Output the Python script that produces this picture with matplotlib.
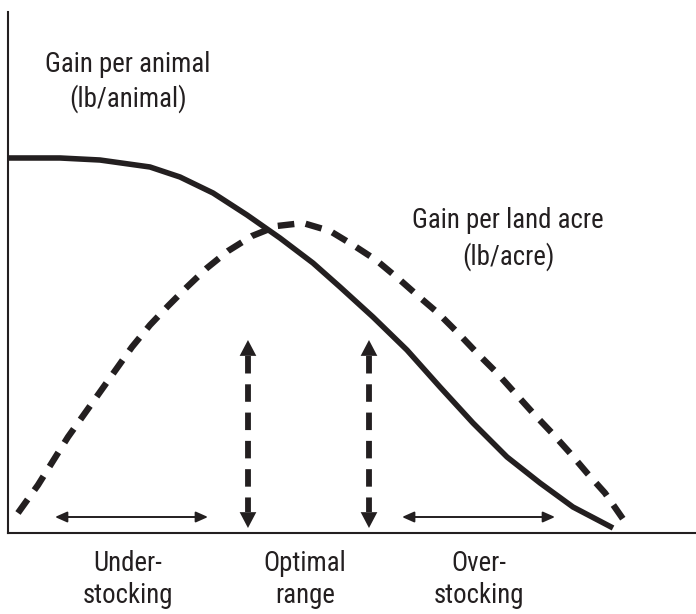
"""Stocking rate diagram: gain per animal vs gain per land acre."""

import matplotlib

matplotlib.use("Agg")
import matplotlib.pyplot as plt

FAMILY = ["Roboto Condensed", "DejaVu Sans"]
INK = "#231f20"

# stocking rate (0-100) vs gain (0-100)
animal_x = [0.0, 7.56, 13.37, 20.64, 25.0, 29.80, 34.74, 39.53, 44.33, 48.26, 53.05,
            57.99, 62.79, 67.59, 72.53, 77.33, 82.12, 87.94]
animal_y = [71.98, 71.98, 71.59, 70.25, 68.33, 65.26, 61.04, 56.62, 51.82, 47.22, 41.46,
            35.12, 28.02, 21.11, 14.59, 9.60, 4.99, 0.96]

acre_x = [1.45, 4.36, 8.72, 13.37, 18.02, 20.64, 23.26, 26.02, 28.92, 31.98, 35.47, 39.10,
          42.88, 46.80, 50.15, 53.49, 56.98, 59.45, 62.50, 65.41, 68.17, 71.08, 73.69,
          76.31, 79.07, 81.69, 84.16, 86.77, 89.39]
acre_y = [3.84, 9.21, 18.43, 27.06, 35.70, 39.92, 43.57, 47.22, 50.86, 54.13, 57.01, 58.93,
          59.50, 57.97, 55.28, 52.40, 48.56, 45.68, 42.23, 38.39, 34.55, 30.71, 26.87,
          23.03, 19.19, 15.36, 11.52, 7.68, 2.69]

opt_x = [34.88, 52.47]
opt_top = 37.04
opt_bottom = 0.96

range_y = 3.07
range_spans = [(6.83, 29.07), (57.27, 79.51)]

curve_labels = [["Gain per animal", "(lb/animal)"], ["Gain per land acre", "(lb/acre)"]]
curve_label_x = [17.4, 72.7]
curve_label_y = [[88.5, 81.8], [58.5, 51.6]]

zone_labels = [["Under-", "stocking"], ["Optimal", "range"], ["Over-", "stocking"]]
zone_x = [17.4, 43.2, 68.5]
zone_y = [-7.3, -13.4]

fig = plt.figure(figsize=(6.96, 6.14), dpi=100)
ax = fig.add_axes([8 / 696, (614 - 533) / 614, 688 / 696, 521 / 614])
ax.set_xlim(0, 100)
ax.set_ylim(0, 100)

ax.plot(animal_x, animal_y, color=INK, lw=4.0, solid_capstyle="butt", solid_joinstyle="round")
ax.plot(acre_x, acre_y, color=INK, lw=4.6, dashes=(2.6, 1.8), dash_capstyle="butt",
        dash_joinstyle="round")

head = 3.0
for x in opt_x:
    ax.plot([x, x], [opt_top - head, opt_bottom + head], color=INK, lw=4.2,
            dashes=(3.0, 1.85), dash_capstyle="butt")
    for tip, tail in [(opt_top, opt_top - head - 0.5), (opt_bottom, opt_bottom + head + 0.5)]:
        ax.annotate("", xy=(x, tip), xytext=(x, tail),
                    arrowprops=dict(arrowstyle="-|>,head_length=0.95,head_width=0.5",
                                    color=INK, lw=0, mutation_scale=12, shrinkA=0, shrinkB=0))

for x0, x1 in range_spans:
    ax.annotate("", xy=(x1, range_y), xytext=(x0, range_y),
                arrowprops=dict(arrowstyle="<|-|>,head_length=0.9,head_width=0.4",
                                color=INK, lw=1.4, mutation_scale=8, shrinkA=0, shrinkB=0))

for lines, x, ys in zip(curve_labels, curve_label_x, curve_label_y):
    for line, y in zip(lines, ys):
        ax.text(x, y, line, ha="center", va="baseline", fontsize=19.4, color=INK,
                family=FAMILY)
for lines, x in zip(zone_labels, zone_x):
    for line, y in zip(lines, zone_y):
        ax.text(x, y, line, ha="center", va="baseline", fontsize=19.4, color=INK,
                family=FAMILY, clip_on=False)

for side in ["top", "right"]:
    ax.spines[side].set_visible(False)
for side in ["left", "bottom"]:
    ax.spines[side].set_linewidth(1.5)
    ax.spines[side].set_color(INK)
ax.set_xticks([])
ax.set_yticks([])

fig.savefig("out.png", dpi=100)
